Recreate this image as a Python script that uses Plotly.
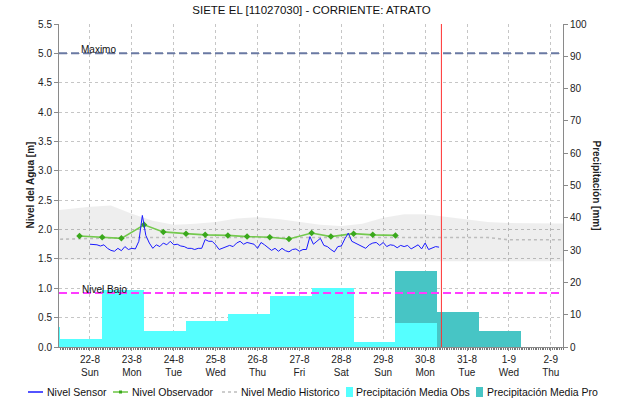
import pandas as pd
import plotly.graph_objects as go

# ---------------- data ----------------
chart_title = "SIETE EL [11027030] - CORRIENTE: ATRATO"

day_ticks = ["2021-08-22", "2021-08-23", "2021-08-24", "2021-08-25", "2021-08-26",
             "2021-08-27", "2021-08-28", "2021-08-29", "2021-08-30", "2021-08-31",
             "2021-09-01", "2021-09-02"]
day_labels = ["22-8<br>Sun", "23-8<br>Mon", "24-8<br>Tue", "25-8<br>Wed", "26-8<br>Thu",
              "27-8<br>Fri", "28-8<br>Sat", "29-8<br>Sun", "30-8<br>Mon", "31-8<br>Tue",
              "1-9<br>Wed", "2-9<br>Thu"]

# Nivel Sensor, every 2 hours from 2021-08-22 00:00
sensor_start = "2021-08-22 00:00"
sensor_level = [
    1.75, 1.745, 1.74, 1.72, 1.74, 1.68, 1.645, 1.63, 1.68, 1.64, 1.71, 1.66,
    1.68, 1.67, 1.80, 2.24, 1.90, 1.77, 1.68, 1.74, 1.71, 1.77, 1.74, 1.80,
    1.74, 1.75, 1.72, 1.71, 1.68, 1.68, 1.66, 1.68, 1.68, 1.83, 1.80, 1.80,
    1.74, 1.66, 1.68, 1.70, 1.73, 1.71, 1.77, 1.80, 1.75, 1.78, 1.77, 1.75,
    1.68, 1.78, 1.74, 1.69, 1.645, 1.68, 1.63, 1.68, 1.64, 1.62, 1.66, 1.67,
    1.63, 1.66, 1.66, 1.88, 1.75, 1.80, 1.85, 1.73, 1.71, 1.66, 1.62, 1.71,
    1.72, 1.84, 1.94, 1.80, 1.77, 1.74, 1.71, 1.68, 1.74, 1.77, 1.78, 1.73,
    1.78, 1.71, 1.74, 1.73, 1.69, 1.73, 1.71, 1.73, 1.67, 1.71, 1.74, 1.67,
    1.77, 1.66, 1.69, 1.71, 1.70,
]

# Nivel Observador (07:00 and 18:00 readings)
obs_times = ["2021-08-21 18:00", "2021-08-22 07:00", "2021-08-22 18:00", "2021-08-23 07:00",
             "2021-08-23 18:00", "2021-08-24 07:00", "2021-08-24 18:00", "2021-08-25 07:00",
             "2021-08-25 18:00", "2021-08-26 07:00", "2021-08-26 18:00", "2021-08-27 07:00",
             "2021-08-27 18:00", "2021-08-28 07:00", "2021-08-28 18:00", "2021-08-29 07:00"]
obs_level = [1.89, 1.87, 1.85, 2.08, 1.96, 1.93, 1.91, 1.90,
             1.88, 1.87, 1.84, 1.94, 1.88, 1.93, 1.91, 1.90]

# Historical band (every 12 h from 2021-08-21 00:00)
hist_start = "2021-08-21 00:00"
hist_upper = [2.31, 2.35, 2.39, 2.41, 2.27, 2.15, 2.08, 2.10, 2.13, 2.19, 2.21, 2.18, 2.13,
              2.08, 2.06, 2.10, 2.20, 2.26, 2.26, 2.22, 2.17, 2.13, 2.11, 2.11, 2.10, 2.10]
hist_lower = [1.48, 1.48, 1.48, 1.48, 1.48, 1.48, 1.48, 1.48, 1.47, 1.47, 1.47, 1.47, 1.47,
              1.47, 1.47, 1.47, 1.46, 1.46, 1.46, 1.46, 1.46, 1.46, 1.46, 1.46, 1.46, 1.46]
hist_mean = [1.83, 1.84, 1.85, 1.86, 1.865, 1.865, 1.865, 1.865, 1.865, 1.865, 1.865, 1.865,
             1.865, 1.865, 1.865, 1.865, 1.865, 1.865, 1.865, 1.865, 1.865, 1.865, 1.825,
             1.825, 1.825, 1.825]

# Precipitation (mm), day periods starting 07:00 of the given date
precip_obs_days = ["2021-08-20", "2021-08-21", "2021-08-22", "2021-08-23", "2021-08-24",
                   "2021-08-25", "2021-08-26", "2021-08-27", "2021-08-28", "2021-08-29"]
precip_obs = [6.3, 2.5, 17.8, 4.9, 8.0, 10.3, 15.9, 18.3, 1.6, 7.5]
precip_pro_days = ["2021-08-29", "2021-08-30", "2021-08-31"]
precip_pro = [23.5, 10.8, 4.9]

nivel_maximo = 5.0
nivel_bajo = 0.92
now_time = "2021-08-30 09:20"

# ---------------- figure ----------------
FONT = "Liberation Sans, Arial, sans-serif"
DAY_MS = 86400000

sensor_x = pd.date_range(sensor_start, periods=len(sensor_level), freq="2h")
hist_x = pd.date_range(hist_start, periods=len(hist_upper), freq="12h")
obs_bar_x = pd.to_datetime(precip_obs_days) + pd.Timedelta(hours=19)
pro_bar_x = pd.to_datetime(precip_pro_days) + pd.Timedelta(hours=19)

c_sensor = "#1a1aff"
c_obs_line = "#74c94e"
c_obs_mark = "#3aa81c"
c_hist = "#bdbdbd"
c_pobs = "#55ffff"
c_ppro = "#47c5c5"

fig = go.Figure()

fig.add_trace(go.Bar(x=pro_bar_x, y=precip_pro, width=DAY_MS, marker=dict(color=c_ppro, line_width=0),
                     name="Precipitación Media Pro", yaxis="y", showlegend=False))
fig.add_trace(go.Bar(x=obs_bar_x, y=precip_obs, width=DAY_MS, marker=dict(color=c_pobs, line_width=0),
                     name="Precipitación Media Obs", yaxis="y", showlegend=False))

fig.add_trace(go.Scatter(x=hist_x, y=hist_lower, mode="lines", line=dict(width=0),
                         yaxis="y2", showlegend=False, hoverinfo="skip"))
fig.add_trace(go.Scatter(x=hist_x, y=hist_upper, mode="lines", line=dict(width=0),
                         fill="tonexty", fillcolor="rgba(0,0,0,0.065)",
                         yaxis="y2", showlegend=False, hoverinfo="skip"))
fig.add_trace(go.Scatter(x=hist_x, y=hist_mean, mode="lines", name="Nivel Medio Historico",
                         line=dict(color=c_hist, width=1.6, dash="3px,3px"), yaxis="y2",
                         showlegend=False))
fig.add_trace(go.Scatter(x=pd.to_datetime(obs_times), y=obs_level, mode="lines+markers",
                         name="Nivel Observador",
                         line=dict(color=c_obs_line, width=1.6),
                         marker=dict(color=c_obs_mark, size=5, symbol="diamond"),
                         yaxis="y2", showlegend=False))
fig.add_trace(go.Scatter(x=sensor_x, y=sensor_level, mode="lines", name="Nivel Sensor",
                         line=dict(color=c_sensor, width=1), yaxis="y2", showlegend=False))

L, R, T, B = 59, 60, 24, 56
PW, PH = 623 - L - R, 403 - T - B


def px(x):
    return (x - L) / PW


def py(y):
    return (403 - B - y) / PH


shapes = [
    dict(type="line", xref="paper", x0=0, x1=1, yref="y2", y0=nivel_maximo, y1=nivel_maximo,
         line=dict(color="#6a79a3", width=2, dash="8px,4px"), layer="above"),
    dict(type="line", xref="paper", x0=0, x1=1, yref="y2", y0=nivel_bajo, y1=nivel_bajo,
         line=dict(color="#ff3cff", width=2, dash="8px,4px"), layer="above"),
    dict(type="line", xref="x", x0=now_time, x1=now_time, yref="paper", y0=0, y1=1,
         line=dict(color="#ff3030", width=1), layer="above"),
]

annotations = [
    dict(text="Maximo", xref="paper", x=px(79), yref="y2", y=nivel_maximo, xanchor="left",
         yanchor="bottom", yshift=-4, showarrow=False, font=dict(size=10, color="#111", family=FONT)),
    dict(text="Nivel Bajo", xref="paper", x=px(80), yref="y2", y=nivel_bajo, xanchor="left",
         yanchor="bottom", yshift=-4, showarrow=False, font=dict(size=10, color="#111", family=FONT)),
    dict(text="<b>Nivel del Agua [m]</b>", xref="paper", x=px(30), yref="paper", y=0.5,
         xanchor="center", yanchor="middle",
         textangle=-90, showarrow=False, font=dict(size=10, color="#222", family=FONT)),
    dict(text="<b>Precipitación [mm]</b>", xref="paper", x=px(596), yref="paper", y=0.5,
         xanchor="center", yanchor="middle",
         textangle=90, showarrow=False, font=dict(size=10, color="#222", family=FONT)),
]

# manual one-row legend
ly = py(392)
lfont = dict(size=10.5, color="#111", family=FONT)
shapes += [
    dict(type="line", xref="paper", yref="paper", x0=px(28), x1=px(43), y0=ly, y1=ly,
         line=dict(color=c_sensor, width=1.5)),
    dict(type="line", xref="paper", yref="paper", x0=px(113), x1=px(128), y0=ly, y1=ly,
         line=dict(color=c_obs_line, width=1.6)),
    dict(type="rect", xref="paper", yref="paper", x0=px(119), x1=px(122), y0=py(393.5), y1=py(390.5),
         fillcolor=c_obs_mark, line=dict(width=0)),
    dict(type="line", xref="paper", yref="paper", x0=px(222), x1=px(237), y0=ly, y1=ly,
         line=dict(color=c_hist, width=1.6, dash="3px,3px")),
    dict(type="rect", xref="paper", yref="paper", x0=px(346), x1=px(353), y0=py(397), y1=py(387),
         fillcolor=c_pobs, line=dict(width=0)),
    dict(type="rect", xref="paper", yref="paper", x0=px(476), x1=px(483), y0=py(397), y1=py(387),
         fillcolor=c_ppro, line=dict(width=0)),
]
for label, x0 in [("Nivel Sensor", 45), ("Nivel Observador", 130), ("Nivel Medio Historico", 239),
                  ("Precipitación Media Obs", 354), ("Precipitación Media Pro", 485)]:
    annotations.append(dict(text=label, xref="paper", yref="paper", x=px(x0), y=ly, xanchor="left",
                            yanchor="middle", showarrow=False, font=lfont))

grid = "#c6c6c6"
axline = "#8a8a8a"
tickfont = dict(size=10, color="#222", family=FONT)

fig.update_layout(
    width=623, height=403,
    margin=dict(l=L, r=R, t=T, b=B, pad=0),
    paper_bgcolor="white", plot_bgcolor="white",
    font=dict(family=FONT, size=10, color="#222"),
    title=dict(text=chart_title, x=0.5, xanchor="center", y=1 - 10 / 403, yanchor="middle",
               font=dict(size=11.5, color="#111", family=FONT)),
    barmode="overlay", bargap=0,
    showlegend=False,
    hovermode=False,
    xaxis=dict(type="date", range=["2021-08-21 06:15", "2021-09-02 07:00"],
               tickmode="array", tickvals=day_ticks, ticktext=day_labels,
               showgrid=True, gridcolor=grid, griddash="dot", gridwidth=1,
               showline=True, linecolor=axline, linewidth=1,
               ticks="outside", ticklen=3, tickcolor=axline, tickfont=tickfont,
               minor=dict(dtick=3600000, ticks="outside", ticklen=2, tickcolor="#777", showgrid=False),
               zeroline=False),
    yaxis=dict(side="right", range=[0, 100], dtick=10, showgrid=False, zeroline=False,
               showline=True, linecolor=axline, linewidth=1, ticks="outside", ticklen=4,
               tickcolor=axline, tickfont=tickfont),
    yaxis2=dict(side="left", overlaying="y", range=[0, 5.5], dtick=0.5, tickformat=".1f",
                showgrid=True, gridcolor=grid, griddash="dot", gridwidth=1, zeroline=False,
                showline=True, linecolor=axline, linewidth=1, ticks="outside", ticklen=4,
                tickcolor=axline, tickfont=tickfont),
    shapes=shapes,
    annotations=annotations,
)

fig.write_html("out.html", config={"displayModeBar": False},
               post_script="document.body.style.margin='0';document.body.style.overflow='hidden';")
